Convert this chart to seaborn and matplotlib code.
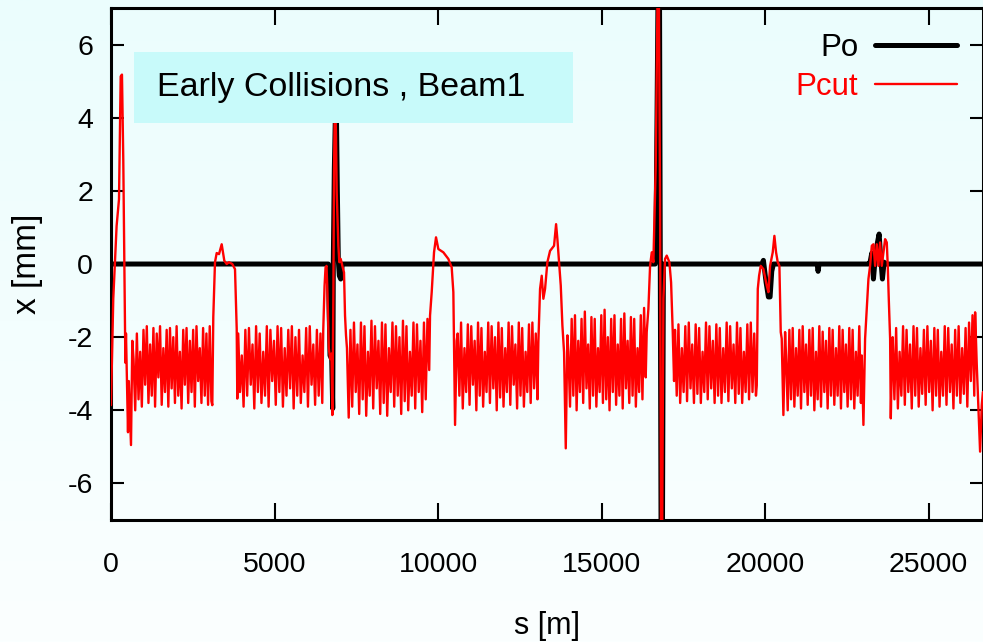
import numpy as np
import pandas as pd
import matplotlib
matplotlib.use("Agg")
import matplotlib.pyplot as plt
from matplotlib.colors import LinearSegmentedColormap
from matplotlib.patches import Rectangle
import seaborn as sns

# ---- data (s in m, x in mm) ----
x_ticks = [0, 5000, 10000, 15000, 20000, 25000]
y_ticks = [-6, -4, -2, 0, 2, 4, 6]
ring_length = 26659

# Po : reference orbit, flat except in a few insertions
po_s = [0, 6645, 6697, 6749, 6780, 6798, 6829, 6881, 6921, 6951, 6982, 7024, 7073,
        16640, 16660, 16730, 16770, 16820, 16860, 16890,
        19900, 19948, 20030, 20101, 20152, 20203, 20254,
        21590, 21620, 21650,
        23160, 23210, 23262, 23312, 23364, 23435, 23486, 23537, 23587, 23638, 23700, 26659]
po_x = [0, 0, -2.5, -2.6, -3.95, 0.1, 2.6, 5.0, 2.0, 0.1, -0.32, -0.41, 0,
        0, 0.2, 7.8, 7.8, -7.8, -7.8, 0,
        0, 0.1, -0.5, -0.9, -0.9, -0.2, 0,
        0, -0.2, 0,
        0, 0.05, 0.3, -0.41, 0.14, 0.59, 0.82, 0.14, -0.41, 0.05, 0, 0]

# Pcut : insertion regions (explicit points)
ir1_s = [0, 70, 172, 245, 297, 336, 376, 419, 440, 459, 520, 545, 612, 652]
ir1_x = [-3.86, -0.95, 1.04, 1.77, 5.13, 5.18, 2.86, -0.95, -2.7, -1.9, -4.6, -3.2, -4.95, -2.1]
ir2_s = [3098, 3128, 3180, 3232, 3303, 3385, 3465, 3538, 3608, 3709, 3792, 3844, 3862]
ir2_x = [-3.86, -1.45, 0.05, 0.3, 0.27, 0.54, 0.09, 0.0, 0.05, 0.0, -0.14, -1.77, -3.68]
ir3_s = [6490, 6530, 6560, 6590, 6620, 6660, 6700, 6740, 6768, 6800, 6820, 6850, 6880,
         6902, 6952, 6982, 7024, 7074, 7125, 7156, 7186]
ir3_x = [-1.8, -0.6, -0.1, -0.05, -0.8, -2.3, -2.6, -2.45, -4.13, -0.77, 2.59, 4.8, 3.5,
         1.96, 0.5, 0.05, 0.14, -0.05, -0.23, -1.41, -1.95]
ir4_s = [9755, 9806, 9877, 9938, 10009, 10162, 10315, 10417, 10468, 10520, 10570]
ir4_x = [-1.41, -0.77, 0.32, 0.73, 0.41, 0.32, 0.14, -0.09, -0.77, -4.4, -2.1]
ir5_s = [13067, 13119, 13170, 13220, 13272, 13343, 13425, 13547, 13609, 13649, 13710,
         13752, 13802, 13853, 13905, 13955]
ir5_x = [-2.14, -0.68, -0.32, -0.95, -0.68, 0.05, 0.36, 0.5, 1.09, 0.68, -0.05,
         -0.59, -1.68, -2.41, -5.04, -1.95]
ir6_s = [16380, 16431, 16483, 16534, 16584, 16656, 16717, 16748, 16768, 16788, 16819,
         16850, 16890, 16941, 16992, 17073, 17125, 17176, 17216]
ir6_x = [-1.86, -1.23, -0.05, 0.32, 0.05, 2.68, 7.8, 7.8, 4.95, 1.77, -7.8,
         -7.8, -0.95, 0.14, 0.23, 0.05, -0.5, -1.86, -3.2]
ir7_s = [19745, 19776, 19816, 19867, 19948, 20050, 20101, 20152, 20233, 20284, 20335,
         20386, 20437, 20478, 20508, 20559, 20611]
ir7_x = [-3.32, -0.68, -0.32, -0.05, -0.14, -0.59, -0.77, -0.05, 0.32, 0.77, 0.32,
         0.05, -0.05, -1.86, -2.04, -4.13, -1.86]
ir8_s = [22955, 23006, 23057, 23108, 23159, 23210, 23262, 23312, 23364, 23414, 23465,
         23516, 23567, 23617, 23669, 23720, 23750, 23781, 23822, 23843, 23873]
ir8_x = [-2.5, -4.4, -2.04, -1.23, -0.41, -0.05, 0.5, 0.54, -0.05, 0.54, -0.05,
         0.59, -0.05, 0.32, 0.68, 0.59, -0.05, -0.95, -2.04, -4.22, -2.77]
end_s = [26421, 26472, 26573, 26624, 26659]
end_x = [-1.32, -2.77, -5.13, -3.86, -3.5]

# Pcut : arcs (start s, end s, values per half cell)
arc_ranges = [(690, 3070), (3890, 6460), (7215, 9730), (10600, 13040),
              (13985, 16350), (17245, 19720), (20640, 22930), (23900, 26395)]
arc1 = [-2.6, -4.0, -1.9, -3.7, -2.4, -3.9, -1.8, -3.3, -1.7, -3.8, -2.2, -3.6, -1.75, -3.9, -1.9, -3.1,
        -1.7, -3.85, -2.3, -3.5, -1.8, -3.9, -1.75, -3.4, -2.0, -3.8, -1.7, -3.6, -2.4, -3.95, -1.8, -3.3,
        -1.75, -3.8, -2.1, -3.5, -1.8, -3.9, -1.7, -3.2, -2.3, -3.8, -1.75, -3.6, -1.9, -3.85, -1.7, -3.75]
arc2 = [-1.9, -3.5, -2.5, -3.9, -1.8, -3.6, -1.75, -3.3, -2.2, -3.95, -1.7, -3.5, -1.9, -3.8, -2.4, -3.6,
        -1.7, -3.9, -1.8, -3.2, -2.1, -3.85, -1.7, -3.5, -1.75, -3.9, -2.3, -3.6, -1.8, -3.4, -1.7, -3.95,
        -2.0, -3.6, -1.8, -3.8, -2.5, -3.5, -1.75, -3.9, -1.7, -3.3, -2.2, -3.85, -1.8, -3.6, -1.9, -3.8]
arc3 = [-2.3, -4.2, -1.8, -3.9, -1.6, -3.5, -2.2, -4.1, -1.6, -3.7, -1.7, -4.15, -2.4, -3.6, -1.55, -3.95,
        -1.7, -3.4, -2.1, -4.1, -1.6, -3.8, -1.65, -4.15, -2.3, -3.5, -1.6, -3.9, -1.7, -3.6, -2.0, -4.1,
        -1.55, -3.75, -1.7, -4.0, -2.4, -3.6, -1.6, -3.95, -1.65, -3.5, -2.1, -4.05, -1.6, -3.7, -1.5, -2.9]
arc4 = [-1.9, -3.6, -1.6, -3.95, -2.3, -3.5, -1.65, -3.85, -1.7, -3.3, -2.1, -4.0, -1.6, -3.6, -1.75, -3.9,
        -2.4, -3.5, -1.6, -3.8, -1.7, -3.4, -2.0, -4.0, -1.6, -3.65, -1.75, -3.9, -2.3, -3.5, -1.6, -3.85,
        -1.7, -3.3, -2.2, -3.95, -1.6, -3.6, -1.75, -3.9, -2.4, -3.5, -1.65, -3.8, -1.6, -3.4, -1.9, -3.7]
arc5 = [-2.4, -3.9, -1.5, -3.6, -1.4, -4.0, -2.1, -3.5, -1.5, -3.8, -1.3, -3.4, -2.2, -3.95, -1.45, -3.6,
        -1.5, -3.9, -2.3, -3.5, -1.4, -3.8, -1.25, -3.7, -2.0, -4.0, -1.5, -3.5, -1.4, -3.85, -2.2, -3.6,
        -1.5, -3.95, -1.35, -3.4, -2.1, -3.8, -1.45, -3.6, -1.5, -3.9, -2.3, -3.5, -1.4, -3.7, -1.2, -3.1]
arc6 = [-1.8, -3.6, -1.65, -3.8, -2.3, -3.5, -1.7, -3.75, -1.6, -3.4, -2.2, -3.8, -1.65, -3.55, -1.75, -3.8,
        -2.4, -3.5, -1.6, -3.7, -1.7, -3.4, -2.1, -3.8, -1.65, -3.6, -1.75, -3.8, -2.3, -3.5, -1.6, -3.75,
        -1.7, -3.4, -2.2, -3.8, -1.6, -3.55, -1.75, -3.8, -2.4, -3.5, -1.65, -3.7, -1.6, -3.5, -1.9, -3.6]
arc7 = [-2.5, -4.0, -1.8, -3.7, -1.75, -3.9, -2.3, -3.6, -1.8, -3.95, -1.7, -3.5, -2.2, -3.85, -1.8, -3.6,
        -1.75, -4.0, -2.4, -3.7, -1.7, -3.9, -1.85, -3.5, -2.1, -3.95, -1.75, -3.6, -1.8, -3.85, -2.3, -3.6,
        -1.7, -3.95, -1.8, -3.5, -2.2, -3.9, -1.75, -3.7, -1.8, -3.95, -2.4, -3.6, -1.7, -3.8]
arc8 = [-2.0, -3.7, -1.75, -3.95, -2.4, -3.6, -1.7, -3.85, -1.8, -3.5, -2.2, -3.95, -1.7, -3.6, -1.75, -3.9,
        -2.3, -3.55, -1.8, -3.85, -1.7, -3.5, -2.1, -4.0, -1.75, -3.6, -1.8, -3.9, -2.4, -3.6, -1.7, -3.85,
        -1.75, -3.5, -2.2, -3.95, -1.8, -3.6, -1.7, -3.8, -2.3, -3.55, -1.75, -3.9, -1.6, -3.2, -1.4, -3.6]

# ---- assemble Pcut along the ring ----
irs = [(ir1_s, ir1_x), (ir2_s, ir2_x), (ir3_s, ir3_x), (ir4_s, ir4_x),
       (ir5_s, ir5_x), (ir6_s, ir6_x), (ir7_s, ir7_x), (ir8_s, ir8_x)]
arcs = [arc1, arc2, arc3, arc4, arc5, arc6, arc7, arc8]
pieces = []
for (irs_s, irs_x), arc, (a0, a1) in zip(irs, arcs, arc_ranges):
    pieces.append(pd.DataFrame({'s': irs_s, 'x': irs_x}))
    pieces.append(pd.DataFrame({'s': np.linspace(a0, a1, len(arc)), 'x': arc}))
pieces.append(pd.DataFrame({'s': end_s, 'x': end_x}))
pcut = pd.concat(pieces, ignore_index=True)
po = pd.DataFrame({'s': po_s, 'x': po_x})

# ---- style ----
sns.set_style("ticks")
plt.rcParams['font.family'] = ['Liberation Sans Narrow', 'Liberation Sans', 'DejaVu Sans']
plt.rcParams['axes.unicode_minus'] = False
for key in ['text.color', 'axes.labelcolor', 'xtick.color', 'ytick.color']:
    plt.rcParams[key] = 'black'

fig = plt.figure(figsize=(9.83, 6.42), dpi=100)

# pale azure backdrop, slightly darker at the top
bg = fig.add_axes([0, 0, 1, 1], zorder=-10)
bg.imshow(np.linspace(0, 1, 256).reshape(-1, 1), aspect='auto', extent=[0, 1, 0, 1],
          cmap=LinearSegmentedColormap.from_list('bg', ['#ebfdfd', '#fbffff']))
bg.axis('off')

ax = fig.add_axes([0.1129, 0.19, 0.887, 0.7975])
ax.set_facecolor('none')

sns.lineplot(data=po, x='s', y='x', ax=ax, color='black', lw=3.6,
             estimator=None, sort=False, label='Po', zorder=2)
sns.lineplot(data=pcut, x='s', y='x', ax=ax, color='#ff0000', lw=1.7,
             estimator=None, sort=False, label='Pcut', zorder=3)

ax.set_xlim(0, ring_length)
ax.set_ylim(-7, 7)
ax.set_xticks(x_ticks)
ax.set_yticks(y_ticks)
ax.tick_params(direction='in', top=True, right=True, width=1.5, labelsize=20.5, colors='black')
ax.tick_params(axis='x', length=12, pad=23)
ax.tick_params(axis='y', length=9.5, pad=13)
for sp in ax.spines.values():
    sp.set_visible(True)
    sp.set_linewidth(2.2)
    sp.set_color('black')

ax.set_xlabel('s [m]', fontsize=22)
ax.xaxis.set_label_coords(0.5, -0.178)
ax.set_ylabel('x [mm]', fontsize=24)
ax.yaxis.set_label_coords(-0.078, 0.5)

# title box
ax.add_patch(Rectangle((0.0264, 0.775), 0.504, 0.139, transform=ax.transAxes,
                       fc='#c8fafa', ec='none', zorder=5))
ax.text(0.264, 0.844, 'Early Collisions , Beam1', transform=ax.transAxes,
        ha='center', va='center', fontsize=24.5, zorder=6)

leg = ax.legend(loc='upper right', bbox_to_anchor=(0.970, 0.952), frameon=False,
                markerfirst=False, fontsize=22.5, handlelength=2.6, handletextpad=0.55,
                labelspacing=0.3, borderpad=0, borderaxespad=0)
leg.set_zorder(7)
for txt, col in zip(leg.get_texts(), ['black', '#ff0000']):
    txt.set_color(col)

fig.savefig('out.png', dpi=100)
